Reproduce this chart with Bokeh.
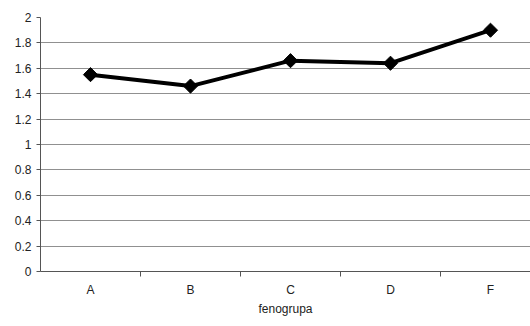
import math
from bokeh.plotting import figure
from bokeh.models import FixedTicker, Range1d
from bokeh.embed import file_html
from bokeh.resources import INLINE

categories = ["A", "B", "C", "D", "F"]
values = [1.55, 1.46, 1.66, 1.64, 1.90]
y_ticks = [0, 0.2, 0.4, 0.6, 0.8, 1.0, 1.2, 1.4, 1.6, 1.8, 2.0]
y_labels = ["0", "0.2", "0.4", "0.6", "0.8", "1", "1.2", "1.4", "1.6", "1.8", "2"]
x_label = "fenogrupa"

xs = [i + 0.5 for i in range(len(categories))]

p = figure(output_backend="svg", toolbar_location=None,
           frame_width=490, frame_height=254,
           x_range=Range1d(0, 4.9), y_range=Range1d(0, 2),
           min_border_left=40, min_border_right=0, min_border_top=17,
           min_border_bottom=55)
p.outline_line_color = None
p.background_fill_color = "white"
p.border_fill_color = "white"

p.line(xs, values, line_color="black", line_width=4)
p.scatter(xs, values, marker="square", size=10, angle=math.pi / 4,
          fill_color="black", line_color="black")

p.xaxis.ticker = FixedTicker(ticks=xs, minor_ticks=[1, 2, 3, 4])
p.xaxis.major_label_overrides = {x: c for x, c in zip(xs, categories)}
p.xaxis.major_tick_line_color = None
p.xaxis.major_tick_out = 0
p.xaxis.major_tick_in = 0
p.xaxis.minor_tick_line_color = "#555555"
p.xaxis.minor_tick_out = 5
p.xaxis.minor_tick_in = 0
p.xaxis.axis_line_color = "#555555"
p.xaxis.axis_label = x_label
p.xaxis.axis_label_text_font = "Liberation Sans"
p.xaxis.axis_label_text_font_style = "normal"
p.xaxis.axis_label_text_font_size = "12px"
p.xaxis.axis_label_text_color = "#222222"
p.xaxis.axis_label_standoff = 2
p.xaxis.major_label_text_font = "Liberation Sans"
p.xaxis.major_label_text_font_size = "12px"
p.xaxis.major_label_text_color = "#222222"
p.xaxis.major_label_standoff = 6

p.yaxis.ticker = FixedTicker(ticks=y_ticks, minor_ticks=[])
p.yaxis.major_label_overrides = {t: l for t, l in zip(y_ticks, y_labels)}
p.yaxis.major_tick_line_color = "#555555"
p.yaxis.major_tick_out = 4
p.yaxis.major_tick_in = 0
p.yaxis.axis_line_color = "#555555"
p.yaxis.major_label_text_font = "Liberation Sans"
p.yaxis.major_label_text_font_size = "12px"
p.yaxis.major_label_text_color = "#222222"
p.yaxis.major_label_standoff = 5

p.xgrid.grid_line_color = None
p.ygrid.grid_line_color = "#909090"
p.ygrid.grid_line_width = 1

open("out.html", "w").write(file_html(p, INLINE))
